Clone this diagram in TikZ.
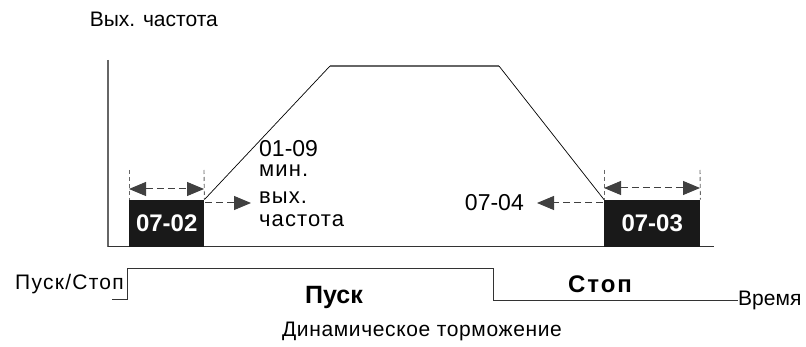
\documentclass[tikz,border=0pt]{standalone}
\usepackage{fontspec}
\setmainfont{Liberation Sans}
\usetikzlibrary{arrows.meta}
\begin{document}
\begin{tikzpicture}[x=1pt,y=-1pt,
  txt/.style={inner sep=0pt, font=\fontsize{21}{22}\selectfont},
  sidetxt/.style={inner sep=0pt, font=\fontsize{22}{24}\selectfont\addfontfeatures{LetterSpace=5}},
  bigtxt/.style={inner sep=0pt, font=\fontsize{23}{24}\selectfont},
  boldtxt/.style={inner sep=0pt, font=\bfseries\fontsize{25}{26}\selectfont},
  blackbox/.style={fill=black!90, draw=none, inner sep=0pt, minimum height=47pt, text=white, font=\bfseries\fontsize{24}{24}\selectfont},
  axis/.style={draw=black!60, line width=1.3pt},
  curve/.style={draw=black, line width=0.7pt},
  dimline/.style={draw=black!75, dash pattern=on 7pt off 4pt, line width=1pt},
  tip/.style={-{Triangle[length=17pt,width=14pt]}},
  tips/.style={{Triangle[length=17pt,width=14pt]}-{Triangle[length=17pt,width=14pt]}},
  tick/.style={draw=black!60, dash pattern=on 4pt off 3pt, line width=0.9pt}
]
\useasboundingbox (0,0) rectangle (806,347);

% axes
\coordinate (ytop) at (108,60);
\coordinate (org) at (108,247);
\coordinate (xend) at (714,247);
\draw[axis] (ytop) -- (org);
\draw[draw=black!80, line width=1pt] (org) -- (xend);
\node[txt, anchor=east] (ylab) at (218,19) {Вых. частота};

% boxes
\node[blackbox, minimum width=75pt, anchor=south west] (b1) at (129,247) {07-02};
\node[blackbox, minimum width=96pt, anchor=south west] (b2) at (604,247) {07-03};

% trapezoid
\coordinate (t1) at (330,66);
\coordinate (t2) at (499,66);
\draw[curve] (b1.north east) -- (t1);
\draw[draw=black!60, line width=1.4pt] (t1) -- (t2);
\draw[curve] (t2) -- (b2.north west);

% dimension marks box 1
\coordinate (d1a) at (129,170);
\coordinate (d1b) at (204,170);
\draw[tick] (d1a) -- (b1.north west);
\draw[tick] (d1b) -- (b1.north east);
\coordinate (d1l) at (129,189);
\coordinate (d1r) at (204,189);
\draw[dimline, tips] (d1l) -- (d1r);

% dimension marks box 2
\coordinate (d2a) at (604,170);
\coordinate (d2b) at (700,170);
\draw[tick] (d2a) -- (b2.north west);
\draw[tick] (d2b) -- (b2.north east);
\coordinate (d2l) at (604,188);
\coordinate (d2r) at (700,188);
\draw[dimline, tips] (d2l) -- (d2r);

% side arrows
\coordinate (a1s) at (205,203);
\coordinate (a1e) at (251,203);
\draw[dimline, tip] (a1s) -- (a1e);
\coordinate (a2s) at (603,203);
\coordinate (a2e) at (537,203);
\draw[dimline, tip] (a2s) -- (a2e);

% labels
\node[bigtxt, anchor=north west] (l0109) at (259,140) {01-09};
\node[sidetxt, anchor=base west] (lmin) at (259,177) {мин.};
\node[sidetxt, anchor=base west] (lvyh) at (259,204) {вых.};
\node[sidetxt, anchor=base west] (lchast) at (259,227) {частота};
\node[bigtxt, anchor=east] (l0704) at (524,203) {07-04};

% run/stop signal
\coordinate (s0) at (112,299);
\coordinate (s1) at (127,299);
\coordinate (s2) at (127,268);
\coordinate (s3) at (493,268);
\coordinate (s4) at (493,300);
\coordinate (s5) at (738,300);
\draw[draw=black!80, line width=0.9pt] (s0) -- (s1) -- (s2) -- (s3) -- (s4) -- (s5);
\node[txt, anchor=east, font=\fontsize{21}{22}\selectfont\addfontfeatures{LetterSpace=6}] (lps) at (124,284) {Пуск/Стоп};
\node[txt, anchor=base west] (ltime) at (738,306) {Время};
\node[boldtxt, anchor=east] (lpusk) at (363,297) {Пуск};
\node[boldtxt, anchor=west, font=\bfseries\fontsize{24}{26}\selectfont\addfontfeatures{LetterSpace=8}] (lstop) at (568,284) {Стоп};
\node[txt, font=\fontsize{21}{22}\selectfont\addfontfeatures{LetterSpace=3}] (ldyn) at (422,331) {Динамическое торможение};
\end{tikzpicture}
\end{document}
